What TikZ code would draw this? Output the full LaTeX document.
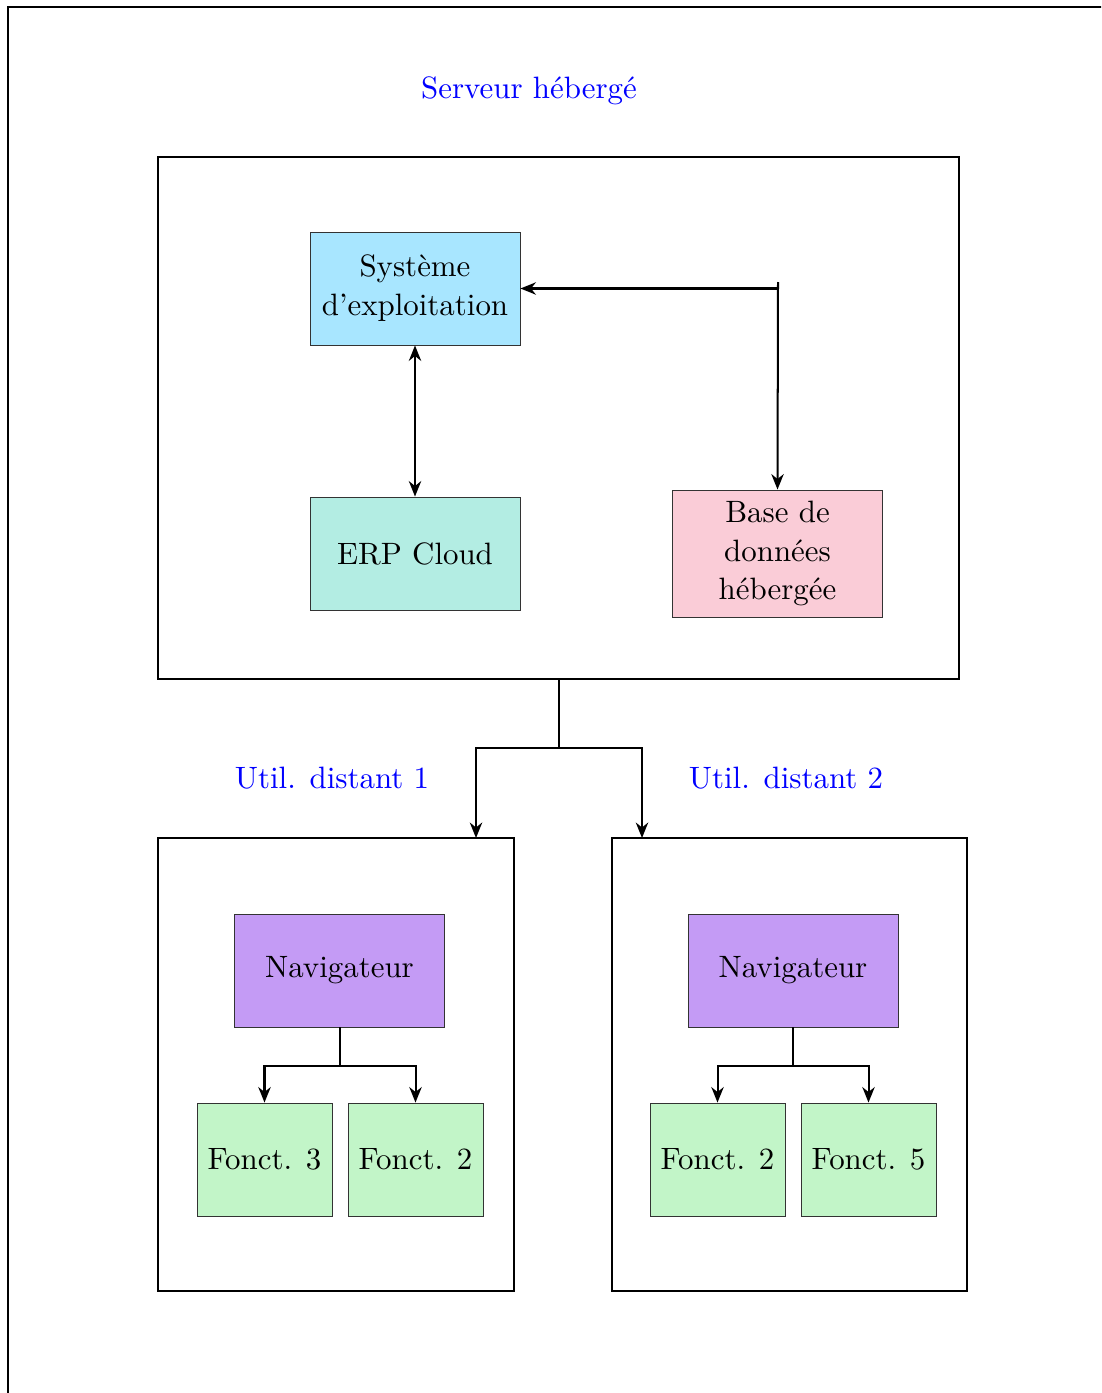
\documentclass[tikz,border=0pt]{standalone}
\usetikzlibrary{arrows.meta}
\definecolor{syscol}{RGB}{168,230,255}
\definecolor{erpcol}{RGB}{179,237,227}
\definecolor{dbcol}{RGB}{250,204,215}
\definecolor{navcol}{RGB}{196,155,245}
\definecolor{fncol}{RGB}{194,245,200}
\tikzset{
  tip/.tip={Stealth[length=5pt,width=4pt,inset=1.6pt]},
  frame/.style={draw, line width=0.65pt},
  block/.style={draw=black!80, line width=0.3pt, minimum width=210*0.3236pt, minimum height=113*0.3236pt, align=center, inner sep=0pt,
    execute at begin node={\setlength{\baselineskip}{12.6pt}}},
  fnblock/.style={block, fill=fncol, minimum width=135*0.3236pt},
  lbl/.style={text=blue},
  link/.style={line width=0.65pt},
  arr/.style={link, -tip},
}
\begin{document}
\begin{tikzpicture}[x=0.3236pt, y=-0.3236pt]
\useasboundingbox (0,0) rectangle (1101,1393);
\begin{scope}
\clip (0,0) rectangle (1101,1393);
\draw[frame] (8,7) rectangle (1130,1420);
\end{scope}

% hosted server
\node[lbl] (srvlbl) at (529,91) {Serveur hébergé};
\node[frame, minimum width=801*0.3236pt, minimum height=522*0.3236pt, inner sep=0pt] (srv) at (558.5,418) {};
\node[block, fill=syscol] (sys) at (415,288.5) {Système\\d’exploitation};
\node[block, fill=erpcol] (erp) at (415,553.5) {ERP Cloud};
\node[block, fill=dbcol, minimum height=127*0.3236pt] (db) at (777.5,553.5) {Base de\\données\\hébergée};
\coordinate (dbtop) at (778,282);
\draw[link, tip-tip] (sys.south) -- (erp.north);
\draw[arr] (dbtop |- sys.east) -- (sys.east);
\draw[arr] (dbtop) -- (db.north);

% remote users
\node[lbl] (u1lbl) at (332,778) {Util. distant 1};
\node[lbl] (u2lbl) at (786,778) {Util. distant 2};
\node[frame, minimum width=356*0.3236pt, minimum height=453*0.3236pt, inner sep=0pt] (u1) at (336,1064.5) {};
\node[frame, minimum width=355*0.3236pt, minimum height=453*0.3236pt, inner sep=0pt] (u2) at (789.5,1064.5) {};
\coordinate (split) at ([yshift=-68*0.3236pt]srv.south);
\draw[link] (srv.south) -- (split);
\draw[arr] (split) -| (476,838);
\draw[arr] (split) -| (642,838);

% user 1
\node[block, fill=navcol] (nav1) at (339.5,970.5) {Navigateur};
\node[fnblock] (f13) at (264.5,1159.5) {Fonct. 3};
\node[fnblock] (f12) at (415.5,1159.5) {Fonct. 2};
\coordinate (s1) at (339.5,1066);
\draw[link] (nav1.south) -- (s1);
\draw[arr] (s1) -| (f13.north);
\draw[arr] (s1) -| (f12.north);

% user 2
\node[block, fill=navcol] (nav2) at (793,970.5) {Navigateur};
\node[fnblock] (f22) at (717.5,1159.5) {Fonct. 2};
\node[fnblock] (f25) at (868.5,1159.5) {Fonct. 5};
\coordinate (s2) at (793,1066);
\draw[link] (nav2.south) -- (s2);
\draw[arr] (s2) -| (f22.north);
\draw[arr] (s2) -| (f25.north);
\end{tikzpicture}
\end{document}
